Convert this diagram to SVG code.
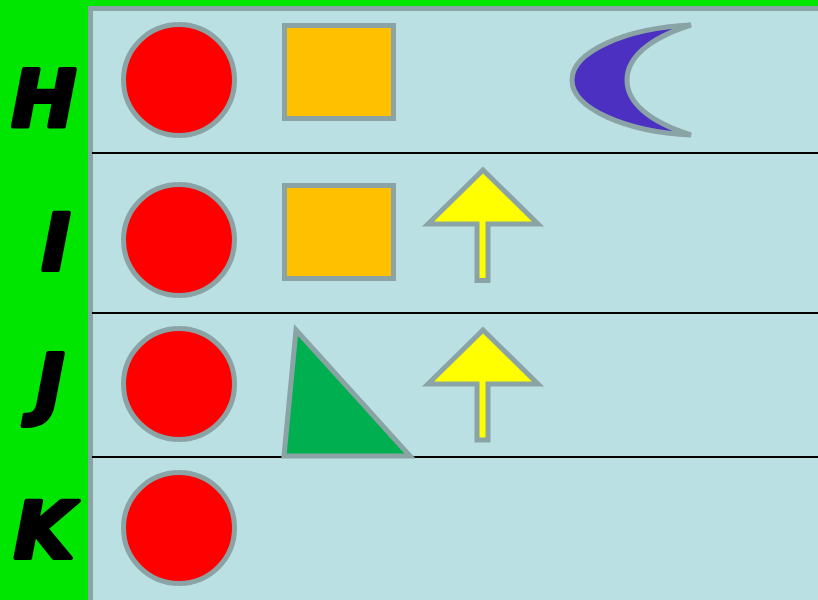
<svg xmlns="http://www.w3.org/2000/svg" width="818" height="600" viewBox="0 0 818 600">
<style>
.sh{stroke:#8AA4A6;stroke-width:5;stroke-linejoin:miter}
.lbl{font-family:"DejaVu Sans",sans-serif;font-weight:bold;font-style:italic;font-size:78px;fill:#000;stroke:#000;stroke-width:4;stroke-linejoin:round;text-anchor:middle}
.row{stroke:#000;stroke-width:2}
</style>
<rect x="0" y="0" width="818" height="600" fill="#00E600"/>
<rect x="90.5" y="8.5" width="740" height="600" fill="#BBE0E3" stroke="#8AA4A6" stroke-width="5"/>
<g id="rows">
<line class="row" x1="92" y1="153" x2="818" y2="153"/>
<line class="row" x1="92" y1="313" x2="818" y2="313"/>
<line class="row" x1="92" y1="457" x2="818" y2="457"/>
</g>
<g id="labels">
<text class="lbl" x="44" y="126">H</text>
<text class="lbl" x="56" y="270">I</text>
<text class="lbl" x="50" y="410">J</text>
<text class="lbl" x="44" y="558">K</text>
</g>
<g id="rowH">
<circle class="sh" cx="179" cy="80" r="55.5" fill="#FF0000"/>
<rect class="sh" x="284.5" y="25.5" width="109" height="93" fill="#FFC000"/>
<path class="sh" d="M691,25 C625,28 572,52 572,80 C572,108 625,132 691,135 C650,122 627,103 627,80 C627,57 650,38 691,25 Z" fill="#4B30C2"/>
</g>
<g id="rowI">
<circle class="sh" cx="179" cy="240" r="55.5" fill="#FF0000"/>
<rect class="sh" x="284.5" y="185.5" width="109" height="93" fill="#FFC000"/>
<path class="sh" d="M483,170 L538,224 L488,224 L488,280.5 L477,280.5 L477,224 L428,224 Z" fill="#FFFF00"/>
</g>
<g id="rowJ">
<circle class="sh" cx="179" cy="384" r="55.5" fill="#FF0000"/>
<path class="sh" d="M296,330 L410,456 L284,456 Z" fill="#00B050"/>
<path class="sh" d="M483,330 L538,384 L488,384 L488,440 L477,440 L477,384 L428,384 Z" fill="#FFFF00"/>
</g>
<g id="rowK">
<circle class="sh" cx="179" cy="528" r="55.5" fill="#FF0000"/>
</g>
</svg>
